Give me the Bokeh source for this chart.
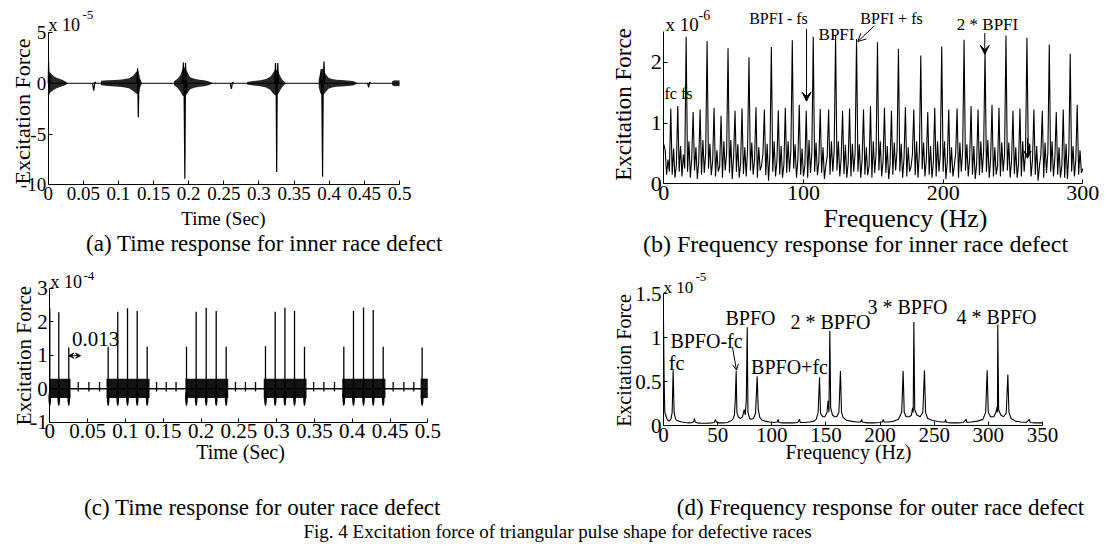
import math
from bokeh.plotting import figure
from bokeh.models import (Range1d, FixedTicker, Label, Arrow, VeeHead, OpenHead,
                          CustomJSTickFormatter, LinearAxis)
from bokeh.embed import file_html
from bokeh.resources import INLINE

FONT = "Liberation Serif"

# ---------------- (a) time response, inner race defect (x 1e-5) ----------------
a_xrange = [0, 0.5]
a_yrange = [-10, 5]
a_xticks = [0, 0.05, 0.1, 0.15, 0.2, 0.25, 0.3, 0.35, 0.4, 0.45, 0.5]
a_yticks = [-10, -5, 0, 5]
a_burst_t = [
    [0.0015, 0.004, 0.008, 0.012, 0.016, 0.020, 0.024, 0.028],
    [0.075, 0.085, 0.095, 0.105, 0.115, 0.121, 0.125, 0.1285, 0.131, 0.1335],
    [0.179, 0.184, 0.188, 0.191, 0.1945, 0.198, 0.202, 0.208, 0.215, 0.222, 0.228, 0.234],
    [0.283, 0.292, 0.302, 0.31, 0.316, 0.32, 0.3235, 0.327, 0.331, 0.334, 0.338],
    [0.385, 0.3875, 0.391, 0.395, 0.399, 0.404, 0.41, 0.418, 0.426, 0.434, 0.44],
    [0.4895, 0.493, 0.497, 0.5],
]
a_burst_hi = [
    [1.2, 0.95, 0.7, 0.55, 0.45, 0.35, 0.2, 0.03],
    [0.25, 0.3, 0.33, 0.38, 0.5, 0.75, 1.1, 1.2, 0.4, 0.02],
    [0.2, 0.45, 0.8, 1.3, 1.6, 1.1, 0.6, 0.45, 0.35, 0.3, 0.2, 0.02],
    [0.12, 0.22, 0.3, 0.42, 0.65, 1.0, 1.4, 1.2, 0.6, 0.3, 0.02],
    [0.4, 1.1, 1.5, 0.9, 0.55, 0.42, 0.35, 0.32, 0.28, 0.22, 0.02],
    [0.2, 0.3, 0.28, 0.3],
]
a_burst_lo = [
    [-0.95, -0.85, -0.65, -0.5, -0.4, -0.3, -0.2, -0.03],
    [-0.2, -0.28, -0.32, -0.38, -0.5, -0.75, -1.0, -1.1, -0.4, -0.02],
    [-0.2, -0.45, -0.8, -1.2, -1.3, -1.0, -0.6, -0.45, -0.35, -0.3, -0.2, -0.02],
    [-0.12, -0.22, -0.3, -0.42, -0.65, -1.0, -1.2, -1.1, -0.6, -0.3, -0.02],
    [-0.4, -1.0, -1.2, -0.85, -0.55, -0.42, -0.35, -0.32, -0.28, -0.22, -0.02],
    [-0.2, -0.3, -0.28, -0.3],
]
a_spike_t = [
    [0.0, 0.0006, 0.0013, 0.002, 0.0028],
    [0.063, 0.0648, 0.0665, 0.068],
    [0.1262, 0.1272, 0.1282, 0.1292, 0.1302],
    [0.1905, 0.1925, 0.1935, 0.1945, 0.1955, 0.1965, 0.1975],
    [0.259, 0.2608, 0.2622, 0.264],
    [0.3222, 0.3235, 0.3245, 0.3252, 0.326, 0.3268, 0.3278],
    [0.3872, 0.3885, 0.3895, 0.3905, 0.3915, 0.3925, 0.3937],
    [0.4545, 0.4562, 0.4575, 0.459],
]
a_spike_v = [
    [0, 2.1, -1.1, 1.0, 0],
    [0, -0.72, 0.15, 0],
    [0, 1.48, -3.35, 0.4, 0],
    [0, 2.05, -1.4, -9.4, 2.0, -0.9, 0],
    [0, -0.55, 0.1, 0],
    [0, 2.0, -1.0, -8.75, 0.6, 2.0, 0],
    [0, 1.4, -1.0, -9.2, 0.5, 2.15, 0],
    [0, -0.4, 0.1, 0],
]

# ---------------- (b) frequency response, inner race defect (x 1e-6) ----------------
b_xrange = [0, 300]
b_yrange = [0, 2.5]
b_xticks = [0, 100, 200, 300]
b_yticks = [0, 1, 2]
b_freq = list(range(0, 301))
b_amp = [
    0.65, 0.55, 0.15, 0.4, 0.2, 1.24, 0.15, 0.58, 0.1, 0.3, 1.28, 0.2, 0.62, 0.12, 0.48, 0.25,
    2.42, 0.2, 0.7, 0.1, 0.42, 1.18, 0.22, 0.6, 0.08, 0.35, 1.22, 0.15, 0.72, 0.18, 0.5,
    2.35, 0.25, 0.66, 0.14, 0.38, 1.25, 0.12, 0.55, 0.2, 0.28, 1.12, 0.1, 0.7, 0.22, 0.52,
    2.23, 0.18, 0.72, 0.08, 0.45, 1.2, 0.2, 0.65, 0.1, 0.33, 1.24, 0.16, 0.6, 0.12, 0.58,
    2.08, 0.22, 0.68, 0.15, 0.4, 1.26, 0.1, 0.6, 0.22, 0.3, 0.5, 1.22, 0.14, 0.66, 0.05, 0.5,
    2.25, 0.2, 0.7, 0.12, 0.38, 1.21, 0.15, 0.62, 0.1, 0.32, 1.25, 0.18, 0.7, 0.2, 0.55,
    2.36, 0.25, 0.65, 0.1, 0.4, 1.3, 0.15, 0.58, 0.12, 0.3, 1.2, 0.1, 0.72, 0.18, 0.5,
    2.42, 0.2, 0.68, 0.14, 0.35, 1.23, 0.18, 0.6, 0.08, 0.3, 0.45, 1.22, 0.15, 0.7, 0.2, 0.55,
    2.44, 0.22, 0.7, 0.12, 0.42, 1.2, 0.16, 0.64, 0.1, 0.34, 1.24, 0.12, 0.66, 0.2, 0.52,
    2.38, 0.2, 0.65, 0.1, 0.4, 1.22, 0.15, 0.6, 0.14, 0.3, 1.28, 0.1, 0.7, 0.18, 0.5,
    2.33, 0.22, 0.7, 0.12, 0.38, 1.25, 0.18, 0.62, 0.08, 0.32, 1.2, 0.15, 0.68, 0.22, 0.55,
    2.22, 0.2, 0.66, 0.1, 0.42, 1.26, 0.12, 0.6, 0.2, 0.28, 0.48, 1.22, 0.14, 0.7, 0.1, 0.52,
    2.11, 0.24, 0.68, 0.12, 0.4, 1.18, 0.15, 0.62, 0.1, 0.35, 1.25, 0.12, 0.7, 0.2, 0.5,
    2.26, 0.2, 0.7, 0.08, 0.38, 1.22, 0.18, 0.6, 0.12, 0.3, 0.5, 1.24, 0.1, 0.68, 0.2, 0.55,
    2.37, 0.22, 0.65, 0.12, 0.42, 1.28, 0.15, 0.62, 0.08, 0.33, 1.22, 0.14, 0.7, 0.18, 0.55,
    2.2, 0.2, 0.72, 0.1, 0.4, 1.3, 0.12, 0.6, 0.15, 0.3, 1.25, 0.12, 0.68, 0.2, 0.5,
    2.44, 0.22, 0.68, 0.1, 0.38, 1.2, 0.16, 0.6, 0.1, 0.32, 1.24, 0.12, 0.7, 0.2, 0.5,
    2.4, 0.45, 0.66, 0.12, 0.4, 1.22, 0.15, 0.62, 0.05, 0.3, 0.48, 1.2, 0.1, 0.68, 0.18, 0.52,
    2.29, 0.2, 0.7, 0.12, 0.42, 1.18, 0.15, 0.6, 0.1, 0.3, 1.22, 0.1, 0.66, 0.08, 0.5,
    2.14, 0.2, 0.62, 0.12, 0.4, 1.3, 0.15, 0.55, 0.18, 0.25,
]

# ---------------- (c) time response, outer race defect (x 1e-4) ----------------
c_xrange = [0, 0.5]
c_yrange = [-1, 3]
c_xticks = [0, 0.05, 0.1, 0.15, 0.2, 0.25, 0.3, 0.35, 0.4, 0.45, 0.5]
c_yticks = [-1, 0, 1, 2, 3]
c_burst_start = [0.0, 0.075, 0.1795, 0.283, 0.3868, 0.4905]
c_burst_end = [0.0274, 0.132, 0.236, 0.3396, 0.444, 0.5]
c_burst_hi = [0.3, 0.3, 0.3, 0.3, 0.3, 0.3]
c_burst_lo = [-0.28, -0.28, -0.28, -0.28, -0.28, -0.28]
c_spike_t = [0.0, 0.0119, 0.0251, 0.0772, 0.0899, 0.1028, 0.1156, 0.1288,
             0.1808, 0.1936, 0.2069, 0.2201, 0.2333, 0.2853, 0.2981, 0.311,
             0.3237, 0.3369, 0.3889, 0.4017, 0.415, 0.4278, 0.441, 0.4925]
c_spike_h = [2.4, 2.28, 1.23, 1.25, 2.3, 2.4, 2.32, 1.25,
             1.25, 2.3, 2.42, 2.32, 1.25, 1.27, 2.3, 2.42,
             2.32, 1.25, 1.25, 2.32, 2.42, 2.35, 1.25, 1.23]
c_dip_lo = -0.52
c_small_t = [0.0376, 0.0517, 0.0658, 0.1412, 0.154, 0.167, 0.2456, 0.2588,
             0.2721, 0.349, 0.3625, 0.3766, 0.4542, 0.4683, 0.4815]
c_small_hi = 0.2
c_small_lo = -0.08

# ---------------- (d) frequency response, outer race defect (x 1e-5) ----------------
d_xrange = [0, 350]
d_yrange = [0, 1.5]
d_xticks = [0, 50, 100, 150, 200, 250, 300, 350]
d_yticks = [0, 0.5, 1, 1.5]
d_freq = [0, 0.6, 1.2, 2, 3, 4, 5, 6, 7, 8, 8.9, 9.8, 11, 12, 14, 17, 20, 24, 27, 28, 28.6, 29.2,
          31, 35, 40, 44, 47, 48, 48.7, 51, 55, 59, 62, 64, 65.5, 66.3, 67.1, 67.8, 69, 71, 73,
          74.5, 75.5, 76.5, 77.3, 78, 79.5, 81, 83, 85, 86.5, 87.5, 89, 91, 94, 98, 102, 105,
          105.9, 106.6, 110, 115, 120, 124, 125.6, 126.3, 130, 135, 139, 141, 142.8, 144.1, 145,
          147, 149, 151, 152, 152.8, 153.6, 154.4, 156, 158, 160, 162, 163.4, 164.4, 166, 169,
          173, 178, 182, 183, 183.7, 188, 194, 199, 202, 203, 203.7, 208, 213, 217, 220, 221.3,
          222.3, 224, 227, 229, 230, 230.6, 231.2, 232, 234, 237, 239.5, 241, 242, 244, 248,
          253, 258, 260, 260.5, 261.2, 266, 272, 277, 279.5, 280.2, 284, 290, 295, 297.5,
          298.9, 299.9, 302, 305, 307, 308, 308.4, 308.7, 309.5, 311.5, 314, 316.5, 318, 319,
          321, 325, 330, 335, 337.9, 338.6, 343, 350]
d_amp = [1.2, 0.5, 0.15, 0.12, 0.08, 0.06, 0.05, 0.06, 0.08, 0.15, 0.63, 0.15, 0.08, 0.06, 0.05,
         0.04, 0.035, 0.03, 0.035, 0.05, 0.08, 0.04, 0.03, 0.025, 0.025, 0.03, 0.035, 0.07, 0.04,
         0.03, 0.03, 0.035, 0.05, 0.07, 0.12, 0.3, 0.62, 0.15, 0.1, 0.08, 0.1, 0.18, 0.12, 0.3,
         1.12, 0.15, 0.08, 0.07, 0.08, 0.14, 0.56, 0.18, 0.09, 0.06, 0.05, 0.04, 0.035, 0.04,
         0.07, 0.035, 0.03, 0.03, 0.03, 0.035, 0.07, 0.035, 0.035, 0.04, 0.05, 0.07, 0.15, 0.55,
         0.14, 0.1, 0.1, 0.15, 0.28, 0.15, 1.08, 0.2, 0.12, 0.1, 0.1, 0.15, 0.62, 0.15, 0.09,
         0.06, 0.05, 0.04, 0.04, 0.07, 0.04, 0.03, 0.03, 0.035, 0.04, 0.07, 0.04, 0.04, 0.05,
         0.07, 0.15, 0.62, 0.15, 0.1, 0.1, 0.12, 0.2, 0.15, 1.18, 0.18, 0.12, 0.1, 0.15, 0.63,
         0.15, 0.08, 0.06, 0.045, 0.04, 0.04, 0.07, 0.035, 0.03, 0.03, 0.035, 0.07, 0.035, 0.04,
         0.05, 0.07, 0.15, 0.63, 0.15, 0.1, 0.1, 0.15, 0.21, 0.15, 1.15, 0.18, 0.12, 0.1, 0.14,
         0.58, 0.15, 0.08, 0.05, 0.04, 0.035, 0.07, 0.035, 0.03, 0.03]

# ---------------- page / canvas geometry (page pixels; the template has no body margin) ----------------
W, H = 1107, 546
FX0, FX1 = 0, W
FY0, FY1 = 0, H

p = figure(width=W, height=H, x_range=Range1d(FX0, FX1), y_range=Range1d(FY1, FY0),
           output_backend="svg", toolbar_location=None, tools="",
           x_axis_location=None, y_axis_location=None,
           min_border_left=0, min_border_right=0, min_border_top=0, min_border_bottom=0)
p.outline_line_color = None
p.grid.visible = False
p.background_fill_color = "white"
p.border_fill_color = "white"


def add_panel(name, px0, px1, xr, py0, py1, yr):
    """Map data range xr onto page x px0..px1 and yr onto page y py0 (bottom)..py1 (top)."""
    sx = (px1 - px0) / (xr[1] - xr[0])
    sy = (py0 - py1) / (yr[1] - yr[0])
    p.extra_x_ranges[name + "x"] = Range1d(xr[0] - (px0 - FX0) / sx, xr[0] + (FX1 - px0) / sx)
    p.extra_y_ranges[name + "y"] = Range1d(yr[0] - (FY1 - py0) / sy, yr[0] + (py0 - FY0) / sy)
    return dict(x_range_name=name + "x", y_range_name=name + "y")


def axes(rn, xr, yr, xticks, yticks, size):
    fmt = CustomJSTickFormatter(code="return String(tick);")
    xa = LinearAxis(fixed_location=yr[0], bounds=(xr[0], xr[1]), **rn)
    ya = LinearAxis(fixed_location=xr[0], bounds=(yr[0], yr[1]), **rn)
    for ax, ticks in ((xa, xticks), (ya, yticks)):
        ax.ticker = FixedTicker(ticks=ticks)
        ax.formatter = fmt
        ax.axis_line_color = "black"
        ax.axis_line_width = 1
        ax.major_tick_line_color = "black"
        ax.major_tick_in = 4
        ax.major_tick_out = 0
        ax.minor_tick_line_color = None
        ax.major_label_text_font = FONT
        ax.major_label_text_font_size = size
        ax.major_label_text_color = "black"
        ax.major_label_standoff = 2
    p.add_layout(xa, "below")
    p.add_layout(ya, "left")


def lab(x, y, text, size, align="center", baseline="middle", angle=0.0, rn=None):
    kw = rn or {}
    p.add_layout(Label(x=x, y=y, text=text, text_font=FONT, text_font_size=size,
                       text_align=align, text_baseline=baseline, angle=angle,
                       text_color="black", **kw))


def arrow(rn, x0, y0, x1, y1, end, start=None):
    p.add_layout(Arrow(end=end, start=start, x_start=x0, y_start=y0, x_end=x1, y_end=y1,
                       line_color="black", line_width=1, **rn))


# ---------------- (a) ----------------
ra = add_panel("a", 47.7, 399.0, a_xrange, 184.3, 32.0, a_yrange)
axes(ra, a_xrange, a_yrange, a_xticks, a_yticks, "19px")
p.line(x=a_xrange, y=[0, 0], line_color="black", line_width=1, **ra)
for t, hi, lo in zip(a_burst_t, a_burst_hi, a_burst_lo):
    p.varea(x=t, y1=lo, y2=hi, fill_color="black", fill_alpha=0.85, **ra)
p.multi_line(xs=a_spike_t, ys=a_spike_v, line_color="black", line_width=1.2, **ra)
lab(48, 24, "x 10", "18px", align="left")
lab(82, 14, "-5", "13px", align="left")
lab(22, 111, "Excitation Force", "22px", angle=math.pi / 2)
lab(223, 218, "Time (Sec)", "19px")
lab(264, 243, "(a) Time response for inner race defect", "23px")

# ---------------- (b) ----------------
rb = add_panel("b", 663.3, 1082.3, b_xrange, 183.3, 31.3, b_yrange)
axes(rb, b_xrange, b_yrange, b_xticks, b_yticks, "22px")
p.line(x=b_freq, y=b_amp, line_color="black", line_width=1.1, **rb)
lab(665, 24, "x 10", "19px", align="left")
lab(698, 14, "-6", "14px", align="left")
lab(623, 104, "Excitation Force", "23px", angle=math.pi / 2)
lab(905, 218, "Frequency (Hz)", "26px")
lab(855, 243, "(b) Frequency response for inner race defect", "24px")
lab(778, 18, "BPFI - fs", "16px")
lab(836, 34, "BPFI", "17px")
lab(891, 18, "BPFI + fs", "16px")
lab(987, 24, "2 * BPFI", "17px")
lab(678, 93, "fc fs", "16px")
arrow(rb, 102.2, 2.55, 102.2, 1.36, VeeHead(size=9, fill_color="black", line_color="black"))
arrow(rb, 150.4, 2.59, 138.9, 2.34, OpenHead(size=8, line_color="black", line_width=1))
arrow(rb, 229.8, 2.48, 229.8, 2.13, VeeHead(size=9, fill_color="black", line_color="black"))
arrow(rb, 260.4, 0.75, 260.4, 0.42, VeeHead(size=7, fill_color="black", line_color="black"))

# ---------------- (c) ----------------
rc = add_panel("c", 49.3, 427.3, c_xrange, 421.7, 287.7, c_yrange)
axes(rc, c_xrange, c_yrange, c_xticks, c_yticks, "21px")
p.line(x=c_xrange, y=[0, 0], line_color="black", line_width=1.5, **rc)
p.quad(left=c_burst_start, right=c_burst_end, bottom=c_burst_lo, top=c_burst_hi,
       fill_color="black", fill_alpha=0.92, line_color=None, **rc)
p.ellipse(x=c_spike_t, y=c_burst_lo[0], width=0.0036, height=2 * (c_burst_lo[0] - c_dip_lo),
          fill_color="black", line_color=None, **rc)
p.segment(x0=c_spike_t, y0=[0] * len(c_spike_t), x1=c_spike_t, y1=c_spike_h,
          line_color="black", line_width=1.3, **rc)
p.segment(x0=c_small_t, y0=[c_small_lo] * len(c_small_t), x1=c_small_t,
          y1=[c_small_hi] * len(c_small_t), line_color="black", line_width=1.3, **rc)
lab(50, 281, "x 10", "18px", align="left")
lab(83, 275, "-4", "13px", align="left")
lab(23, 355, "Excitation Force", "21px", angle=math.pi / 2)
lab(240, 451, "Time (Sec)", "20px")
lab(95, 338, "0.013", "21px")
arrow(rc, 0.0251, 0.985, 0.0407, 0.985,
      VeeHead(size=5, fill_color="black", line_color="black"),
      start=VeeHead(size=5, fill_color="black", line_color="black"))
lab(262, 507, "(c) Time response for outer race defect", "23px")

# ---------------- (d) ----------------
rd = add_panel("d", 663.0, 1042.0, d_xrange, 425.0, 293.3, d_yrange)
axes(rd, d_xrange, d_yrange, d_xticks, d_yticks, "21px")
p.line(x=d_freq, y=d_amp, line_color="black", line_width=1.1, **rd)
lab(663, 287, "x 10", "17px", align="left")
lab(695, 276.5, "-5", "13px", align="left")
lab(623, 360, "Excitation Force", "20px", angle=math.pi / 2)
lab(848, 451, "Frequency (Hz)", "20px")
lab(750, 317, "BPFO", "20px")
lab(830, 321, "2 * BPFO", "20px")
lab(907, 306, "3 * BPFO", "20px")
lab(996, 316, "4 * BPFO", "20px")
lab(706, 340, "BPFO-fc", "20px")
lab(676, 362, "fc", "20px")
lab(789, 366, "BPFO+fc", "20px")
arrow(rd, 63.7, 0.89, 67.4, 0.63, OpenHead(size=6, line_color="black", line_width=1))
lab(880, 507, "(d) Frequency response for outer race defect", "23px")

# ---------------- figure caption ----------------
lab(557, 531, "Fig. 4 Excitation force of triangular pulse shape for defective races", "19px")

open("out.html", "w").write(file_html(p, INLINE))
